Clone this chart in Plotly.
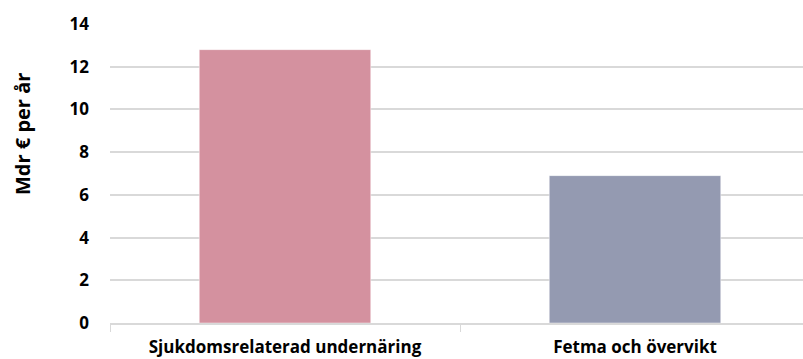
import plotly.graph_objects as go

categories = ["Sjukdomsrelaterad undernäring", "Fetma och övervikt"]
values = [12.8, 6.9]
bar_colors = ["#D4919F", "#949AB1"]
y_ticks = [0, 2, 4, 6, 8, 10, 12, 14]

FONT = "Open Sans"

fig = go.Figure(
    go.Bar(
        x=categories,
        y=values,
        width=0.49,
        marker=dict(color=bar_colors, line=dict(color="rgba(255,255,255,0.45)", width=1)),
        hoverinfo="skip",
    )
)

fig.update_layout(
    width=803,
    height=359,
    margin=dict(l=110, r=0, t=24, b=36),
    paper_bgcolor="white",
    plot_bgcolor="white",
    showlegend=False,
    font=dict(family=FONT, color="#000000"),
    xaxis=dict(
        type="category",
        range=[-0.5, 1.48],
        automargin=False,
        showgrid=False,
        showline=True,
        linecolor="#D9D9D9",
        linewidth=1.5,
        ticks="outside",
        tickson="boundaries",
        ticklen=7,
        tickcolor="#D9D9D9",
        tickwidth=1,
        ticklabelstandoff=8,
        tickfont=dict(family=FONT, size=17, weight="bold", color="#000000"),
    ),
    yaxis=dict(
        range=[0, 14],
        tickvals=y_ticks,
        automargin=False,
        showgrid=True,
        gridcolor="#D9D9D9",
        gridwidth=1.5,
        zeroline=False,
        showline=False,
        ticks="",
        ticklabelstandoff=20,
        tickfont=dict(family=FONT, size=17, weight="bold", color="#000000"),
    ),
    annotations=[
        dict(
            text="Mdr € per år",
            xref="paper",
            yref="paper",
            x=-0.127,
            y=0.632,
            xanchor="center",
            yanchor="middle",
            textangle=-90,
            showarrow=False,
            font=dict(family=FONT, size=20, weight="bold", color="#000000"),
        )
    ],
)

fig.write_html("out.html")
